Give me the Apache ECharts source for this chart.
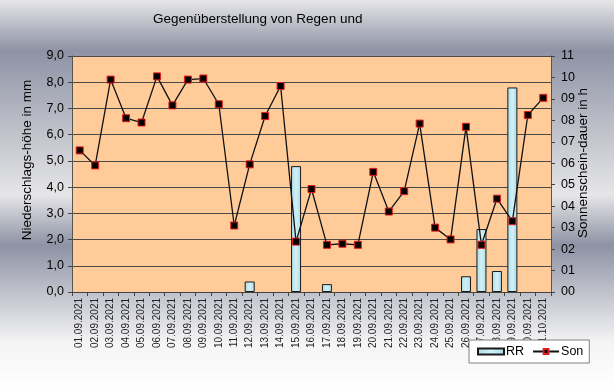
<!DOCTYPE html>
<html>
<head>
<meta charset="utf-8">
<script src="https://cdn.jsdelivr.net/npm/echarts@6/dist/echarts.min.js"></script>
<style>
html,body{margin:0;padding:0;}
#c{width:614px;height:389px;}
</style>
</head>
<body>
<div id="c"></div>
<script>
var categories = ["01.09.2021","02.09.2021","03.09.2021","04.09.2021","05.09.2021","06.09.2021","07.09.2021","08.09.2021","09.09.2021","10.09.2021","11.09.2021","12.09.2021","13.09.2021","14.09.2021","15.09.2021","16.09.2021","17.09.2021","18.09.2021","19.09.2021","20.09.2021","21.09.2021","22.09.2021","23.09.2021","24.09.2021","25.09.2021","26.09.2021","27.09.2021","28.09.2021","29.09.2021","30.09.2021","01.10.2021"];
var rr = [null,null,null,null,null,null,null,null,null,null,null,0.4,null,null,4.8,null,0.3,null,null,null,null,null,null,null,null,0.6,2.4,0.8,7.8,null,null];
var son = [6.6,5.9,9.9,8.1,7.9,10.05,8.7,9.9,9.95,8.75,3.1,5.95,8.2,9.6,2.35,4.8,2.2,2.25,2.2,5.6,3.75,4.7,7.85,3.0,2.45,7.7,2.2,4.35,3.3,8.25,9.05];
var rrTicks = [0,1,2,3,4,5,6,7,8,9];
var sonTicks = [0,1,2,3,4,5,6,7,8,9,10,11];

var chart = echarts.init(document.getElementById('c'));
var font = 'Liberation Sans, Arial, sans-serif';
chart.setOption({
  animation: false,
  backgroundColor: new echarts.graphic.LinearGradient(0,0,0,1,[
    {offset:0, color:'#e6e6e8'},
    {offset:0.13, color:'#8e92a4'},
    {offset:0.5, color:'#e6e6e8'},
    {offset:0.63, color:'#8e92a4'},
    {offset:0.88, color:'#f4f4f5'},
    {offset:1, color:'#ffffff'}
  ]),
  textStyle: {fontFamily: font},
  title: {
    text: 'Gegenüberstellung von Regen und',
    left: 148, top: 7,
    textStyle: {fontFamily: font, fontSize: 13.5, fontWeight: 'normal', color: '#000'}
  },
  legend: {
    left: 469, top: 340,
    width: 110,
    backgroundColor: '#ffffff',
    borderColor: '#808080', borderWidth: 1,
    borderRadius: 0,
    padding: [5, 6, 5, 8],
    itemGap: 8,
    itemWidth: 26, itemHeight: 6,
    textStyle: {fontFamily: font, fontSize: 12.5, color: '#000', padding: [0,0,0,-3]},
    data: [
      {name: 'RR', icon: 'rect'},
      {name: 'Son'}
    ]
  },
  grid: {
    left: 72, right: 63, top: 56, bottom: 97,
    show: true, backgroundColor: '#FFCC99', borderWidth: 0
  },
  xAxis: {
    type: 'category',
    data: categories,
    axisLine: {lineStyle: {color: '#444', width: 1}},
    axisTick: {show: true, length: 4, lineStyle: {color: '#444'}},
    axisLabel: {rotate: 90, interval: 0, fontSize: 10, color: '#222', fontFamily: font, margin: 6}
  },
  yAxis: [
    {
      type: 'value', min: rrTicks[0], max: rrTicks[rrTicks.length-1], interval: 1,
      name: 'Niederschlags-höhe in mm',
      nameLocation: 'middle', nameGap: 38,
      nameTextStyle: {fontFamily: font, fontSize: 13.5, color: '#000', padding: [0,0,0,28]},
      axisLine: {show: true, lineStyle: {color: '#555'}},
      axisTick: {show: true, length: 4, lineStyle: {color: '#444'}},
      axisLabel: {fontSize: 12.5, color: '#000', fontFamily: font, margin: 8,
        formatter: function(v){ return v.toFixed(1).replace('.', ','); }},
      splitLine: {show: true, lineStyle: {color: '#4a4a4a', width: 1}}
    },
    {
      type: 'value', min: sonTicks[0], max: sonTicks[sonTicks.length-1], interval: 1,
      name: 'Sonnenschein-dauer in h',
      nameLocation: 'middle', nameGap: 25,
      nameMoveOverlap: false,
      nameRotate: 90,
      nameTextStyle: {fontFamily: font, fontSize: 13.5, color: '#000', padding: [0,0,0,22]},
      axisLine: {show: true, lineStyle: {color: '#555'}},
      axisTick: {show: true, length: 4, lineStyle: {color: '#444'}},
      axisLabel: {fontSize: 12.5, color: '#000', fontFamily: font, margin: 10,
        formatter: function(v){ return (v < 10 ? '0' : '') + v; }},
      splitLine: {show: false}
    }
  ],
  series: [
    {
      name: 'RR', type: 'bar', yAxisIndex: 0,
      data: rr,
      barWidth: 10,
      itemStyle: {
        color: new echarts.graphic.LinearGradient(0,0,1,0,[
          {offset:0, color:'#a9dce8'},
          {offset:0.5, color:'#d2f0f6'},
          {offset:1, color:'#a9dce8'}
        ]),
        borderColor: '#1a1a1a', borderWidth: 1
      }
    },
    {
      name: 'Son', type: 'line', yAxisIndex: 1,
      data: son,
      symbol: 'rect', symbolSize: 7,
      lineStyle: {color: '#111', width: 1.3},
      itemStyle: {color: '#000', borderColor: '#e41b1b', borderWidth: 1}
    }
  ]
});
</script>
</body>
</html>
